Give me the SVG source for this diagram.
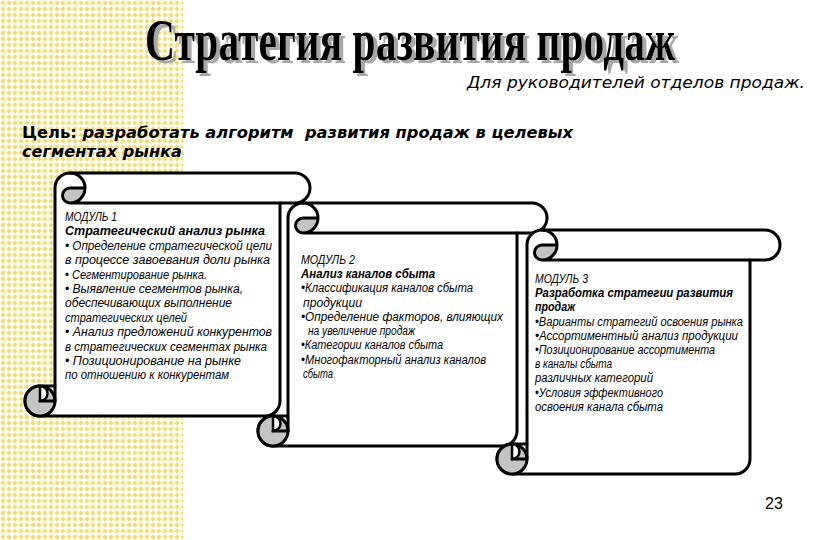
<svg xmlns="http://www.w3.org/2000/svg" width="834" height="540" viewBox="0 0 834 540">
<style>
.scroll{fill:#fff;stroke:#000;stroke-width:3;stroke-linejoin:round}
.curl{fill:#c4c4c4;stroke:#000;stroke-width:3}
.notch{fill:#fff;stroke:#000;stroke-width:2.5}
.ln{fill:none;stroke:#000;stroke-width:3;stroke-linecap:round}
.gray{fill:#c4c4c4;stroke:none}
.t{font-family:"Liberation Sans",Arial,sans-serif;font-style:italic;font-size:12px;fill:#000}
.b{font-weight:bold}
</style>
<defs>
<pattern id="dots" width="6" height="6" patternUnits="userSpaceOnUse">
<rect width="6" height="6" fill="#fffdf2"/>
<path d="M3 0.5 L5.5 3 L3 5.5 L0.5 3 Z" fill="#f2da6e"/>
</pattern>
<filter id="shadow" filterUnits="userSpaceOnUse" x="120" y="0" width="600" height="100">
<feFlood flood-color="#a8a8a8" result="c"/>
<feComposite in="c" in2="SourceAlpha" operator="in" result="s"/>
<feOffset in="s" dx="4" dy="3" result="o"/>
<feMerge><feMergeNode in="o"/><feMergeNode in="SourceGraphic"/></feMerge>
</filter>
</defs>
<rect width="834" height="540" fill="#fff"/>
<rect id="background" x="0" y="0" width="183" height="540" fill="url(#dots)"/>

<g id="title" font-family="'Liberation Serif','Times New Roman',serif" font-weight="bold" font-size="60" filter="url(#shadow)">
<text x="145" y="60" fill="#000" textLength="530" lengthAdjust="spacingAndGlyphs">Стратегия развития продаж</text>
</g>
<g id="subtitle">
<text x="467" y="88" font-family="'DejaVu Sans',Verdana,sans-serif" font-style="italic" font-size="16" textLength="338" lengthAdjust="spacingAndGlyphs">Для руководителей отделов продаж.</text>
</g>
<g id="goal" font-family="'DejaVu Sans',Verdana,sans-serif" font-weight="bold" font-size="15">
<text x="22" y="138" textLength="551" lengthAdjust="spacingAndGlyphs">Цель: <tspan font-style="italic">разработать алгоритм&#160; развития продаж в целевых</tspan></text>
<text x="22" y="157" font-style="italic" textLength="160" lengthAdjust="spacingAndGlyphs">сегментах рынка</text>
</g>

<g id="module1">
<g transform="translate(55,173)">
<path class="scroll" d="M0,213 L0,15 A15,15 0 0 1 15,0 L240,0 A15,15 0 0 1 240,30 L225,30 L225,228 A15,15 0 0 1 210,243 L-15,243 A15,15 0 0 1 -15,213 Z"/>
<path class="gray" d="M30,15 A15,15 0 0 1 15,30 A7.5,7.5 0 0 1 15,15 Z"/>
<path class="ln" d="M15,0 A15,15 0 0 1 15,30 A7.5,7.5 0 0 1 15,15 L30,15 M225,30 L15,30"/>
<circle class="curl" cx="-15" cy="228" r="15"/>
<path class="notch" d="M-15,213 A7.5,7.5 0 0 1 -15,228 Z"/>
<path class="ln" d="M-15,228 L0,228 M0,213 L0,228"/>
</g>
<text class="t" x="65" y="221" textLength="52" lengthAdjust="spacingAndGlyphs">МОДУЛЬ 1</text>
<text class="t b" x="65" y="235" textLength="200" lengthAdjust="spacingAndGlyphs">Стратегический анализ рынка</text>
<text class="t" x="65" y="250" textLength="207" lengthAdjust="spacingAndGlyphs">• Определение стратегической цели</text>
<text class="t" x="65" y="264" textLength="205" lengthAdjust="spacingAndGlyphs">в процессе завоевания доли рынка</text>
<text class="t" x="65" y="279" textLength="142" lengthAdjust="spacingAndGlyphs">• Сегментирование рынка.</text>
<text class="t" x="65" y="293" textLength="178" lengthAdjust="spacingAndGlyphs">• Выявление сегментов рынка,</text>
<text class="t" x="65" y="307" textLength="167" lengthAdjust="spacingAndGlyphs">обеспечивающих выполнение</text>
<text class="t" x="65" y="322" textLength="122" lengthAdjust="spacingAndGlyphs">стратегических целей</text>
<text class="t" x="65" y="336" textLength="207" lengthAdjust="spacingAndGlyphs">• Анализ предложений конкурентов</text>
<text class="t" x="65" y="351" textLength="202" lengthAdjust="spacingAndGlyphs">в стратегических сегментах рынка</text>
<text class="t" x="65" y="365" textLength="176" lengthAdjust="spacingAndGlyphs">• Позиционирование на рынке</text>
<text class="t" x="65" y="379" textLength="164" lengthAdjust="spacingAndGlyphs">по отношению к конкурентам</text>
</g>

<g id="module2">
<g transform="translate(288,203)">
<path class="scroll" d="M0,213 L0,15 A15,15 0 0 1 15,0 L244,0 A15,15 0 0 1 244,30 L229,30 L229,228 A15,15 0 0 1 214,243 L-15,243 A15,15 0 0 1 -15,213 Z"/>
<path class="gray" d="M30,15 A15,15 0 0 1 15,30 A7.5,7.5 0 0 1 15,15 Z"/>
<path class="ln" d="M15,0 A15,15 0 0 1 15,30 A7.5,7.5 0 0 1 15,15 L30,15 M229,30 L15,30"/>
<circle class="curl" cx="-15" cy="228" r="15"/>
<path class="notch" d="M-15,213 A7.5,7.5 0 0 1 -15,228 Z"/>
<path class="ln" d="M-15,228 L0,228 M0,213 L0,228"/>
</g>
<text class="t" x="301" y="264" textLength="54" lengthAdjust="spacingAndGlyphs">МОДУЛЬ 2</text>
<text class="t b" x="301" y="278" textLength="134" lengthAdjust="spacingAndGlyphs">Анализ каналов сбыта</text>
<text class="t" x="301" y="292" textLength="172" lengthAdjust="spacingAndGlyphs">•Классификация каналов сбыта</text>
<text class="t" x="303" y="307" textLength="59" lengthAdjust="spacingAndGlyphs">продукции</text>
<text class="t" x="301" y="321" textLength="202" lengthAdjust="spacingAndGlyphs">•Определение факторов, влияющих</text>
<text class="t" x="308" y="335" textLength="107" lengthAdjust="spacingAndGlyphs">на увеличение продаж</text>
<text class="t" x="301" y="349" textLength="142" lengthAdjust="spacingAndGlyphs">•Категории каналов сбыта</text>
<text class="t" x="301" y="364" textLength="185" lengthAdjust="spacingAndGlyphs">•Многофакторный анализ каналов</text>
<text class="t" x="303" y="378" textLength="30" lengthAdjust="spacingAndGlyphs">сбыта</text>
</g>

<g id="module3">
<g transform="translate(527,230)">
<path class="scroll" d="M0,214 L0,15 A15,15 0 0 1 15,0 L238,0 A15,15 0 0 1 238,30 L223,30 L223,229 A15,15 0 0 1 208,244 L-15,244 A15,15 0 0 1 -15,214 Z"/>
<path class="gray" d="M30,15 A15,15 0 0 1 15,30 A7.5,7.5 0 0 1 15,15 Z"/>
<path class="ln" d="M15,0 A15,15 0 0 1 15,30 A7.5,7.5 0 0 1 15,15 L30,15 M223,30 L15,30"/>
<circle class="curl" cx="-15" cy="229" r="15"/>
<path class="notch" d="M-15,214 A7.5,7.5 0 0 1 -15,229 Z"/>
<path class="ln" d="M-15,229 L0,229 M0,214 L0,229"/>
</g>
<text class="t" x="535" y="283" textLength="53" lengthAdjust="spacingAndGlyphs">МОДУЛЬ 3</text>
<text class="t b" x="535" y="297" textLength="198" lengthAdjust="spacingAndGlyphs">Разработка стратегии развития</text>
<text class="t b" x="535" y="311" textLength="40" lengthAdjust="spacingAndGlyphs">продаж</text>
<text class="t" x="535" y="326" textLength="208" lengthAdjust="spacingAndGlyphs">•Варианты стратегий освоения рынка</text>
<text class="t" x="535" y="340" textLength="203" lengthAdjust="spacingAndGlyphs">•Ассортиментный анализ продукции</text>
<text class="t" x="535" y="354" textLength="180" lengthAdjust="spacingAndGlyphs">•Позиционирование ассортимента</text>
<text class="t" x="535" y="368" textLength="77" lengthAdjust="spacingAndGlyphs">в каналы сбыта</text>
<text class="t" x="535" y="382" textLength="118" lengthAdjust="spacingAndGlyphs">различных категорий</text>
<text class="t" x="535" y="397" textLength="128" lengthAdjust="spacingAndGlyphs">•Условия эффективного</text>
<text class="t" x="535" y="411" textLength="128" lengthAdjust="spacingAndGlyphs">освоения канала сбыта</text>
</g>

<g id="page-number">
<text x="765" y="509" font-family="'Liberation Sans',Arial,sans-serif" font-size="16">23</text>
</g>
</svg>
